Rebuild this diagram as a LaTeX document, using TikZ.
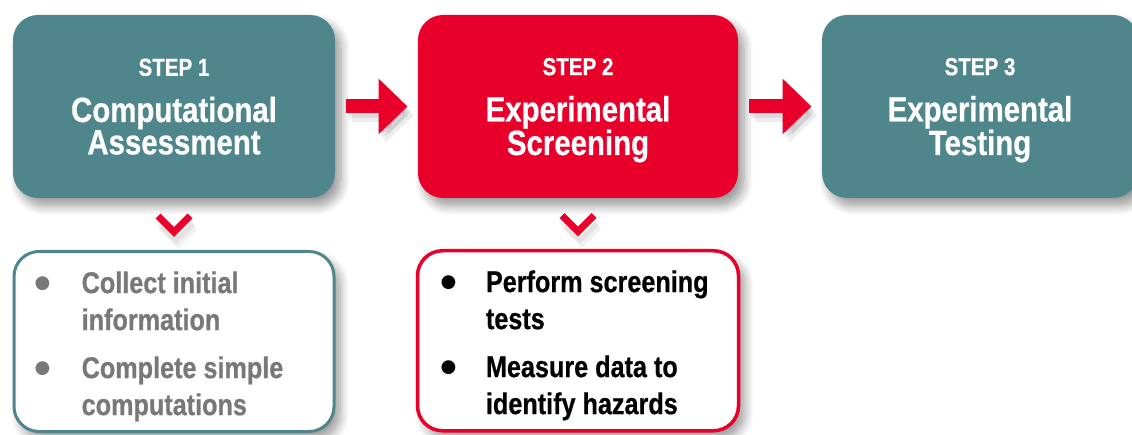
\documentclass[tikz,border=0pt]{standalone}
\usepackage{fontspec}
\setmainfont[FakeStretch=0.84,BoldFeatures={FakeBold=0.6}]{Liberation Sans}
\newfontfamily\dotfont{Liberation Sans}
\usepackage{xcolor}
\usepackage{tikz}
\usetikzlibrary{positioning,arrows.meta,shadows.blur,calc}
\definecolor{stepteal}{RGB}{78,134,140}
\definecolor{stepred}{RGB}{232,0,42}
\definecolor{notegray}{RGB}{120,120,120}
\newcommand\notedot{{\dotfont\fontsize{48}{0}\selectfont\raisebox{-6pt}{\textbullet}}}
\tikzset{
	softshade/.style={blur shadow={shadow xshift=6pt,shadow yshift=-8pt,
		shadow blur radius=9pt,shadow blur steps=10}},
	stepbox/.style={
		rounded corners=25pt,
		minimum width=322pt,
		minimum height=183pt,
		inner sep=0pt,
		outer sep=0pt,
		text=white,
		text depth=0pt,
		align=center,
		font=\bfseries\fontsize{35}{31}\selectfont,
		softshade
	},
	notebox/.style={
		draw,
		line width=3pt,
		fill=white,
		rounded corners=25pt,
		minimum width=320pt,
		minimum height=180pt,
		inner sep=0pt,
		softshade
	},
	notetext/.style={
		anchor=north west,
		inner sep=0pt,
		align=left,
		font=\bfseries\fontsize{30}{37}\selectfont
	},
	steparrow/.style={
		draw=stepred,
		line width=14pt,
		-{Triangle[length=29pt,width=54pt]},
		shorten <=10.5pt,
		shorten >=10.5pt
	},
	arrowshade/.style={draw=black,opacity=.07,transform canvas={shift={(#1)}}},
	chevron/.style={draw=stepred,line width=7pt},
	chevronshade/.style={draw=black,opacity=.06,line width=9pt,transform canvas={shift={(#1)}}}
}
\newcommand\steptitle[3]{\lineskiplimit=-50pt\relax{\fontsize{24.5}{31}\selectfont STEP #1}\\[15.2pt]#2\\#3}

\begin{document}
\begin{tikzpicture}[x=1pt,y=1pt]
\useasboundingbox (0,0) rectangle (1132,434);

\node[stepbox,fill=stepteal] (b1) at (174,327.5) {\steptitle{1}{Computational}{Assessment}};
\node[stepbox,fill=stepred,minimum width=320pt,right=83pt of b1] (b2) {\steptitle{2}{Experimental}{Screening}};
\node[stepbox,fill=stepteal,minimum width=316pt,right=84pt of b2] (b3) {\steptitle{3}{Experimental}{Testing}};

\foreach \s in {{3pt,-5pt},{6pt,-9pt}}{
	\draw[steparrow,arrowshade=\s] (b1) -- (b2);
	\draw[steparrow,arrowshade=\s] (b2) -- (b3);
}
\draw[steparrow] (b1) -- (b2);
\draw[steparrow] (b2) -- (b3);

\node[notebox,draw=stepteal,below=52pt of b1] (l1) {};
\node[notebox,draw=stepred,line width=3.5pt,minimum width=321pt,below=51pt of b2] (l2) {};

\coordinate (v1) at ($(b1.south)!0.5!(l1.north)$);
\coordinate (v2) at ($(b2.south)!0.5!(l2.north)$);
\foreach \v in {v1,v2}{
	\foreach \s in {{2pt,-6pt},{4pt,-10pt}}
		\draw[chevronshade=\s] ([shift={(-16pt,8pt)}]\v) -- ([shift={(0pt,-8pt)}]\v) -- ([shift={(16pt,8pt)}]\v);
	\draw[chevron] ([shift={(-16pt,8pt)}]\v) -- ([shift={(0pt,-8pt)}]\v) -- ([shift={(16pt,8pt)}]\v);
}

\node[notetext,text=notegray] (n1) at ([shift={(21.6pt,-17pt)}]l1.north west) {%
	\begin{tabular}{@{}p{47.4pt}@{}l@{}}
	\notedot & Collect initial\\
	 & information\\[11pt]
	\notedot & Complete simple\\
	 & computations
	\end{tabular}};
\node[notetext,text=black] (n2) at ([shift={(24.6pt,-17pt)}]l2.north west) {%
	\begin{tabular}{@{}p{45.4pt}@{}l@{}}
	\notedot & Perform screening\\
	 & tests\\[11pt]
	\notedot & Measure data to\\
	 & identify hazards
	\end{tabular}};
\end{tikzpicture}
\end{document}
